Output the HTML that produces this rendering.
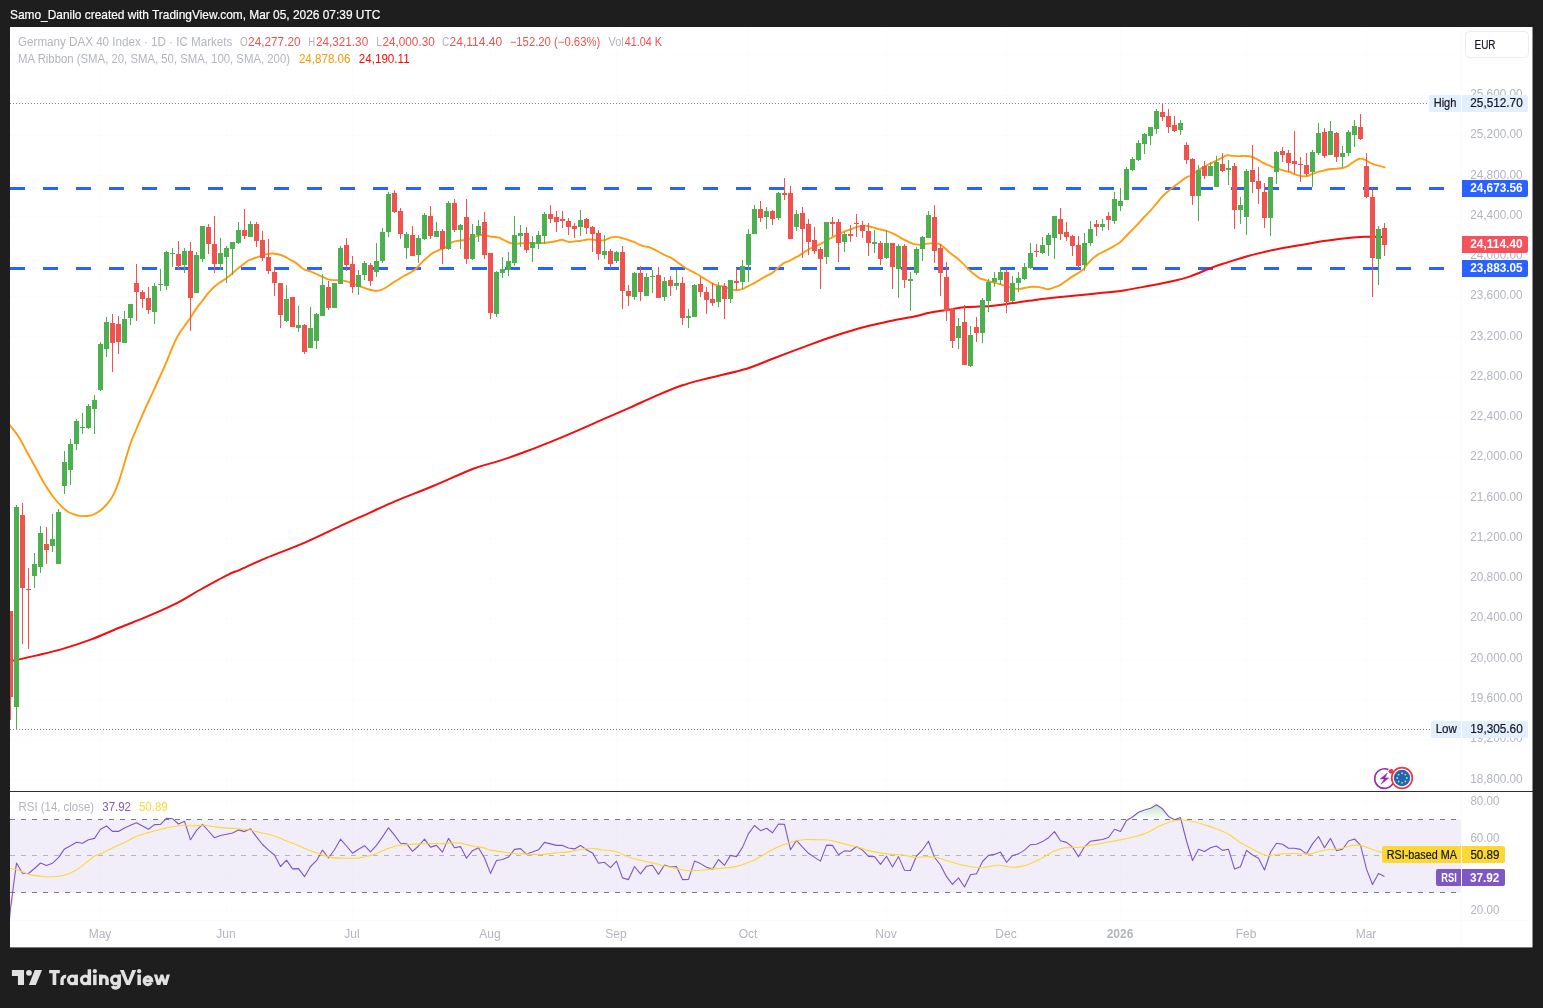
<!DOCTYPE html><html><head><meta charset="utf-8"><title>DAX</title><style>
html,body{margin:0;padding:0;background:#1e1e1e;width:1543px;height:1008px;overflow:hidden}
svg{display:block;position:absolute;left:0;top:0}
svg{will-change:transform}
text{font-family:"Liberation Sans",sans-serif;font-size:12px}
.g{fill:#b2b5be}.r{fill:#ef5350}.ax{fill:#b2b5be}.dk{fill:#131722;stroke:#131722;stroke-width:.2px}.w{fill:#fff}
</style></head><body>
<svg width="1543" height="1008" viewBox="0 0 1543 1008">
<defs>
<clipPath id="cm"><rect x="10" y="27" width="1451" height="764"/></clipPath>
<clipPath id="cr"><rect x="10" y="792" width="1451" height="128"/></clipPath>
<linearGradient id="ob" gradientUnits="userSpaceOnUse" x1="0" y1="800" x2="0" y2="819.5"><stop offset="0" stop-color="#4caf50" stop-opacity="0.45"/><stop offset="1" stop-color="#4caf50" stop-opacity="0"/></linearGradient>
<linearGradient id="os" gradientUnits="userSpaceOnUse" x1="0" y1="892.5" x2="0" y2="912"><stop offset="0" stop-color="#ef5350" stop-opacity="0"/><stop offset="1" stop-color="#ef5350" stop-opacity="0.45"/></linearGradient>
<clipPath id="cw"><rect x="150" y="974.6" width="25" height="10.5"/></clipPath>
</defs>
<rect x="0" y="0" width="1543" height="1008" fill="#1e1e1e"/>
<text x="10" y="19.4" style="font-size:13px" fill="#fff" stroke="#fff" stroke-width="0.2" textLength="370.3" lengthAdjust="spacingAndGlyphs">Samo_Danilo created with TradingView.com, Mar 05, 2026 07:39 UTC</text>
<rect x="10" y="27" width="1522.5" height="920.4" fill="#fff"/>
<path d="M10 54.5H1461 M10 95.5H1461 M10 135.5H1461 M10 175.5H1461 M10 216.5H1461 M10 256.5H1461 M10 296.5H1461 M10 336.5H1461 M10 377.5H1461 M10 417.5H1461 M10 457.5H1461 M10 497.5H1461 M10 538.5H1461 M10 578.5H1461 M10 618.5H1461 M10 659.5H1461 M10 699.5H1461 M10 739.5H1461 M10 779.5H1461 M100.5 27V791M100.5 792V920 M226.5 27V791M226.5 792V920 M352.5 27V791M352.5 792V920 M490.5 27V791M490.5 792V920 M616.5 27V791M616.5 792V920 M748.5 27V791M748.5 792V920 M886.5 27V791M886.5 792V920 M1006.5 27V791M1006.5 792V920 M1120.5 27V791M1120.5 792V920 M1246.5 27V791M1246.5 792V920 M1366.5 27V791M1366.5 792V920 M10 801.5H1461 M10 838.5H1461 M10 874.5H1461 M10 910.5H1461" stroke="#fcfcfe" stroke-width="1" fill="none"/>
<path d="M1461.5 27V947M10 920.5H1531" stroke="#fbfbfd" stroke-width="1" fill="none"/>
<g clip-path="url(#cm)">
<path d="M10 103.5H1429M10 729.5H1431" stroke="#787b86" stroke-width="1" stroke-dasharray="1 2" fill="none"/>
<path d="M10 188.5H1461M10 268.5H1461" stroke="#2962ff" stroke-width="3" stroke-dasharray="15 18" fill="none"/>
<path d="M9.0 424.0C9.3 424.4 9.1 424.1 10.8 426.4C12.5 428.6 16.3 433.1 19.1 437.5C21.9 441.9 24.6 447.7 27.4 452.8C30.2 457.9 33.0 462.9 35.8 468.0C38.6 473.1 41.3 478.7 44.1 483.3C46.9 487.9 49.6 492.1 52.4 495.8C55.2 499.5 58.0 502.8 60.8 505.6C63.6 508.4 66.3 510.9 69.1 512.5C71.9 514.1 75.1 514.7 77.4 515.3C79.7 515.9 80.7 516.1 83.0 516.1C85.3 516.1 88.5 516.1 91.3 515.3C94.1 514.5 96.9 513.2 99.7 511.1C102.5 509.0 105.7 505.6 108.0 502.8C110.3 500.0 111.8 498.1 113.6 494.4C115.4 490.7 117.2 485.9 119.1 480.6C120.9 475.3 122.8 468.6 124.7 462.5C126.6 456.4 128.4 449.4 130.3 444.0C132.2 438.6 134.0 434.8 136.0 430.0C138.0 425.2 140.3 419.9 142.3 415.4C144.3 410.9 146.0 407.0 147.8 403.0C149.6 399.0 151.5 395.4 153.3 391.4C155.1 387.4 157.0 383.0 158.8 379.0C160.6 375.0 162.4 371.5 164.2 367.3C166.0 363.1 167.9 358.4 169.7 354.0C171.5 349.6 173.5 344.6 175.1 341.1C176.7 337.6 178.1 335.4 179.5 333.0C180.9 330.6 182.0 329.6 183.8 327.0C185.6 324.4 188.4 320.7 190.5 317.7C192.6 314.7 194.2 311.6 196.1 308.9C198.0 306.2 200.1 303.8 202.0 301.3C203.9 298.8 205.9 296.1 207.8 293.7C209.8 291.3 211.8 289.0 213.7 287.2C215.6 285.4 217.6 284.0 219.5 282.6C221.4 281.2 223.5 280.4 225.4 279.0C227.3 277.6 229.2 276.0 231.2 274.4C233.1 272.8 235.1 270.8 237.1 269.1C239.1 267.4 241.1 265.9 243.0 264.4C244.9 262.9 246.9 261.4 248.8 260.3C250.8 259.2 252.8 258.7 254.7 258.0C256.6 257.3 258.6 256.8 260.5 256.2C262.4 255.5 264.4 254.5 266.4 254.1C268.3 253.7 270.2 253.5 272.2 253.5C274.1 253.5 276.2 253.8 278.1 254.2C280.1 254.6 281.9 255.3 283.9 256.2C285.8 257.1 287.9 258.4 289.8 259.5C291.8 260.6 293.7 261.3 295.6 262.6C297.5 263.9 299.5 266.0 301.0 267.2C302.5 268.4 302.9 268.9 304.5 269.6C306.1 270.3 308.4 270.6 310.4 271.3C312.3 272.0 314.2 273.1 316.2 274.0C318.1 274.9 320.2 275.7 322.1 276.6C324.1 277.5 325.9 278.7 327.9 279.3C329.8 279.9 331.9 280.0 333.8 280.1C335.8 280.2 337.7 279.9 339.6 280.1C341.6 280.3 343.6 280.6 345.5 281.1C347.4 281.6 349.4 282.4 351.3 283.1C353.2 283.8 355.2 284.7 357.2 285.4C359.1 286.1 361.1 286.7 363.0 287.4C364.9 288.1 366.9 288.9 368.9 289.5C370.9 290.1 372.9 290.6 374.8 290.7C376.8 290.8 378.7 290.7 380.6 290.1C382.6 289.5 384.6 288.4 386.5 287.2C388.4 286.0 390.4 284.4 392.3 283.1C394.2 281.8 396.2 280.7 398.2 279.5C400.1 278.3 402.1 277.1 404.0 276.0C405.9 274.9 407.9 274.1 409.9 272.9C411.8 271.7 413.8 270.7 415.7 269.0C417.6 267.3 419.7 264.6 421.6 262.6C423.6 260.7 425.4 259.0 427.4 257.3C429.3 255.6 431.3 253.8 433.3 252.6C435.3 251.4 437.5 250.8 439.5 249.9C441.5 249.0 443.4 248.5 445.4 247.3C447.3 246.1 449.2 243.7 451.2 242.6C453.1 241.5 455.2 241.3 457.1 240.9C459.1 240.5 460.9 240.6 462.9 240.3C464.8 240.0 466.8 239.7 468.8 239.1C470.8 238.5 472.8 237.5 474.7 236.8C476.6 236.1 478.6 235.2 480.5 235.0C482.4 234.8 484.4 235.3 486.4 235.6C488.3 235.9 490.2 236.5 492.2 236.8C494.1 237.1 496.2 236.9 498.1 237.4C500.1 237.9 501.9 239.1 503.9 240.0C505.8 240.9 507.9 242.3 509.8 242.9C511.8 243.5 513.5 243.5 515.6 243.6C517.8 243.7 520.6 243.4 522.7 243.3C524.9 243.2 526.5 243.1 528.5 243.1C530.5 243.1 532.4 243.1 534.4 243.1C536.4 243.1 538.3 243.2 540.3 243.1C542.2 243.0 544.1 242.9 546.1 242.7C548.1 242.5 550.0 242.2 552.0 241.9C554.0 241.6 556.1 241.0 557.8 240.7C559.4 240.3 560.1 239.6 561.9 239.8C563.7 240.0 566.1 241.7 568.4 241.9C570.6 242.2 573.3 241.5 575.4 241.3C577.5 241.1 579.2 241.0 581.2 240.7C583.2 240.4 585.2 239.7 587.1 239.5C589.0 239.3 591.0 239.3 592.9 239.5C594.8 239.7 596.8 240.4 598.8 240.5C600.8 240.6 602.8 240.6 604.7 240.1C606.7 239.6 608.5 238.1 610.5 237.6C612.5 237.1 614.4 236.8 616.4 236.9C618.4 237.0 620.2 237.6 622.2 238.1C624.2 238.6 626.2 239.3 628.1 239.9C630.0 240.5 632.0 241.1 633.9 241.9C635.8 242.7 637.8 244.0 639.8 244.8C641.8 245.6 644.0 246.2 645.6 246.6C647.2 247.0 647.7 246.6 649.3 247.2C650.9 247.8 653.1 248.9 655.1 249.9C657.1 250.9 659.0 252.1 661.0 253.1C663.0 254.1 664.8 255.0 666.8 256.0C668.8 257.0 670.8 257.7 672.7 258.9C674.7 260.1 676.5 261.6 678.5 263.0C680.5 264.4 682.4 266.0 684.4 267.3C686.4 268.6 688.3 269.6 690.3 270.6C692.2 271.6 694.1 272.4 696.1 273.5C698.1 274.6 700.0 275.9 702.0 277.1C704.0 278.3 705.8 279.6 707.8 280.8C709.8 282.0 711.8 283.3 713.7 284.1C715.7 284.9 717.5 285.3 719.5 285.8C721.5 286.3 723.4 286.4 725.4 287.0C727.4 287.6 729.2 288.9 731.2 289.4C733.2 289.9 735.2 290.3 737.1 290.2C739.0 290.1 741.0 289.5 742.9 288.8C744.8 288.1 746.8 286.8 748.8 285.8C750.8 284.8 752.8 284.0 754.7 282.9C756.7 281.8 758.5 280.6 760.5 279.4C762.5 278.2 764.4 277.0 766.4 275.9C768.4 274.8 770.2 274.4 772.2 273.0C774.2 271.6 776.2 269.4 778.1 267.7C780.0 266.0 782.0 264.2 783.9 263.0C785.8 261.8 787.8 261.6 789.8 260.7C791.8 259.8 794.1 258.2 795.6 257.4C797.1 256.6 797.0 257.0 798.5 256.1C800.0 255.2 802.4 253.3 804.4 252.0C806.4 250.7 808.3 249.5 810.3 248.5C812.2 247.5 814.1 247.0 816.1 246.1C818.1 245.2 820.0 244.3 822.0 243.2C824.0 242.1 825.8 240.8 827.8 239.7C829.8 238.6 831.8 237.7 833.7 236.7C835.7 235.7 837.5 234.7 839.5 233.8C841.5 232.9 843.4 231.9 845.4 231.1C847.4 230.3 849.2 229.8 851.2 229.1C853.2 228.4 855.2 227.4 857.1 226.8C859.0 226.2 861.0 225.7 862.9 225.6C864.8 225.5 866.8 225.8 868.8 226.2C870.8 226.6 872.8 227.4 874.7 228.0C876.7 228.6 878.5 229.0 880.5 229.5C882.5 230.0 884.4 230.3 886.4 230.9C888.4 231.5 890.2 232.3 892.2 233.2C894.2 234.1 896.2 235.1 898.1 236.2C900.0 237.3 902.0 238.7 903.9 239.7C905.8 240.7 907.8 241.6 909.8 242.4C911.8 243.2 913.7 244.0 915.6 244.4C917.5 244.8 919.3 244.9 921.2 244.8C923.1 244.7 925.2 243.8 927.1 243.6C929.0 243.4 931.0 243.3 932.9 243.4C934.8 243.5 936.8 243.2 938.8 243.9C940.8 244.7 942.8 246.3 944.7 247.9C946.7 249.5 948.5 251.7 950.5 253.3C952.5 254.9 954.4 256.0 956.4 257.6C958.4 259.2 960.2 261.0 962.2 262.9C964.2 264.8 966.2 266.9 968.1 268.8C970.0 270.7 972.0 272.4 973.9 274.0C975.8 275.6 978.0 277.5 979.8 278.4C981.5 279.3 982.6 279.1 984.4 279.6C986.1 280.2 988.3 281.1 990.3 281.7C992.2 282.3 994.1 282.6 996.1 283.1C998.1 283.6 1000.0 284.2 1002.0 284.8C1004.0 285.4 1005.8 286.0 1007.8 286.6C1009.8 287.2 1011.8 287.9 1013.7 288.3C1015.7 288.7 1017.5 289.0 1019.5 288.9C1021.5 288.8 1023.5 288.1 1025.4 287.8C1027.4 287.5 1029.2 287.0 1031.2 286.8C1033.2 286.6 1035.1 286.7 1037.1 286.9C1039.0 287.1 1041.1 287.6 1042.9 288.0C1044.8 288.4 1046.2 289.3 1048.2 289.2C1050.2 289.1 1052.7 287.9 1054.7 287.2C1056.8 286.5 1058.5 285.9 1060.5 284.8C1062.5 283.7 1064.5 282.1 1066.4 280.7C1068.4 279.3 1070.2 277.9 1072.2 276.6C1074.2 275.3 1076.1 274.4 1078.1 273.1C1080.0 271.8 1082.6 270.2 1083.9 269.0C1085.2 267.8 1084.8 267.3 1086.1 265.7C1087.4 264.1 1090.0 261.2 1092.0 259.3C1094.0 257.4 1095.8 255.9 1097.8 254.6C1099.8 253.3 1101.8 252.7 1103.7 251.7C1105.7 250.7 1107.5 249.8 1109.5 248.7C1111.5 247.6 1113.5 246.4 1115.4 245.2C1117.3 244.0 1118.8 243.4 1120.7 241.7C1122.7 240.0 1125.1 237.1 1127.1 235.0C1129.1 232.9 1131.0 231.2 1132.9 229.2C1134.9 227.2 1136.8 225.1 1138.8 223.0C1140.8 220.9 1142.8 218.6 1144.7 216.5C1146.7 214.4 1148.5 212.8 1150.5 210.7C1152.5 208.5 1154.5 205.9 1156.4 203.6C1158.4 201.2 1160.2 198.6 1162.2 196.6C1164.2 194.6 1166.1 193.0 1168.1 191.3C1170.1 189.6 1172.4 187.9 1174.4 186.3C1176.4 184.7 1178.3 183.1 1180.3 181.7C1182.2 180.2 1184.1 178.7 1186.1 177.6C1188.0 176.5 1190.0 176.4 1192.0 175.2C1194.0 174.0 1195.8 171.9 1197.8 170.5C1199.8 169.1 1201.8 168.1 1203.7 167.0C1205.7 165.9 1207.5 164.9 1209.5 163.9C1211.5 162.9 1213.5 162.1 1215.4 161.2C1217.4 160.2 1219.2 159.2 1221.2 158.2C1223.2 157.2 1225.1 155.7 1227.1 155.3C1229.0 154.9 1231.0 155.8 1232.9 155.9C1234.9 156.0 1236.8 156.1 1238.8 156.1C1240.8 156.1 1242.8 155.8 1244.7 155.9C1246.7 156.0 1248.5 156.0 1250.5 156.5C1252.5 157.0 1254.5 157.8 1256.4 158.8C1258.4 159.8 1260.2 161.3 1262.2 162.3C1264.2 163.3 1266.1 164.1 1268.1 165.0C1270.0 165.9 1272.0 166.9 1273.9 167.6C1275.9 168.3 1277.8 168.8 1279.8 169.4C1281.8 170.0 1283.9 170.7 1285.6 171.1C1287.3 171.5 1288.8 171.6 1290.0 172.0C1291.2 172.4 1291.5 173.0 1293.0 173.6C1294.5 174.2 1296.8 175.1 1298.9 175.6C1301.1 176.1 1303.8 176.5 1305.9 176.3C1308.1 176.1 1309.8 174.9 1311.8 174.2C1313.8 173.5 1315.6 172.8 1317.6 172.2C1319.5 171.6 1321.5 171.2 1323.5 170.7C1325.5 170.2 1327.3 169.6 1329.3 169.3C1331.2 169.0 1333.0 169.1 1335.2 168.9C1337.4 168.7 1340.2 168.4 1342.2 168.0C1344.2 167.6 1345.5 167.2 1347.0 166.5C1348.5 165.8 1349.6 164.7 1350.9 163.8C1352.2 162.9 1353.5 161.8 1354.9 161.0C1356.4 160.2 1357.9 158.9 1359.6 158.7C1361.3 158.5 1363.2 159.2 1365.0 159.9C1366.8 160.6 1368.9 162.2 1370.5 163.0C1372.1 163.8 1373.2 164.2 1374.5 164.6C1375.8 165.0 1376.7 165.2 1378.4 165.7C1380.1 166.1 1383.6 167.0 1384.6 167.3" stroke="#ff9c0f" stroke-width="1.9" fill="none" stroke-linejoin="round" stroke-linecap="round"/>
<path d="M9.0 661.5C9.3 661.4 6.3 662.1 10.8 661.1C15.3 660.1 27.0 657.7 35.8 655.6C44.6 653.5 54.4 651.3 63.6 648.6C72.8 645.9 82.0 642.9 91.3 639.4C100.5 635.9 109.8 631.6 119.1 627.8C128.4 624.0 137.6 620.6 146.9 616.7C156.2 612.8 165.4 608.9 174.7 604.2C183.9 599.5 193.2 593.6 202.4 588.5C211.7 583.4 223.9 576.7 230.2 573.6C236.5 570.5 234.1 572.4 240.0 569.8C245.9 567.2 255.1 562.6 265.9 558.1C276.7 553.6 291.8 548.2 304.8 542.6C317.8 537.0 332.9 529.4 343.7 524.4C354.5 519.4 361.0 516.7 369.6 512.8C378.2 508.9 384.7 505.7 395.5 501.1C406.3 496.6 421.4 490.9 434.4 485.5C447.4 480.1 462.5 472.8 473.3 468.7C484.1 464.6 490.5 463.7 499.2 460.9C507.9 458.1 514.4 455.9 525.2 451.8C536.0 447.7 551.0 441.7 564.0 436.3C577.0 430.9 591.9 424.2 602.9 419.4C613.9 414.6 621.2 411.5 630.0 407.6C638.8 403.7 647.3 399.6 655.9 395.9C664.5 392.2 673.1 388.4 681.8 385.5C690.4 382.6 697.0 381.1 707.8 378.3C718.6 375.5 735.9 371.9 746.7 368.7C757.5 365.4 761.8 362.9 772.6 358.8C783.4 354.7 800.7 348.1 811.5 344.1C822.3 340.1 828.8 337.8 837.4 335.0C846.0 332.2 854.7 329.5 863.3 327.2C871.9 324.9 880.6 323.1 889.2 321.3C897.9 319.5 908.5 317.7 915.2 316.3C921.9 314.9 924.7 313.6 929.4 312.7C934.1 311.8 937.2 311.5 943.4 310.6C949.6 309.7 959.0 307.9 966.8 307.1C974.6 306.3 982.5 306.6 990.3 305.9C998.1 305.2 1005.9 304.0 1013.7 303.0C1021.5 302.0 1029.3 300.7 1037.1 299.7C1044.9 298.7 1052.7 297.9 1060.5 297.1C1068.3 296.3 1077.3 295.5 1083.9 294.8C1090.5 294.1 1093.4 293.7 1100.0 293.0C1106.6 292.3 1115.4 291.6 1123.7 290.4C1132.0 289.2 1141.0 287.3 1149.6 285.7C1158.2 284.1 1168.6 282.1 1175.5 280.5C1182.4 278.9 1185.0 278.2 1191.1 276.1C1197.1 274.0 1205.8 269.9 1211.8 267.6C1217.8 265.3 1220.5 264.6 1227.4 262.4C1234.3 260.2 1244.7 256.9 1253.3 254.6C1261.9 252.3 1270.5 250.4 1279.2 248.7C1287.9 247.0 1298.1 245.4 1305.2 244.2C1312.3 243.0 1315.4 242.2 1321.8 241.3C1328.2 240.4 1337.2 239.2 1343.6 238.5C1350.0 237.8 1356.0 237.2 1360.0 236.9C1364.0 236.6 1363.5 236.7 1367.6 236.7C1371.7 236.7 1381.7 236.9 1384.5 236.9" stroke="#f60c0c" stroke-width="2" fill="none" stroke-linejoin="round" stroke-linecap="round"/>
<path d="M16 505h1v225h-1zM34 553h1v35h-1zM40 526h1v47h-1zM52 514h1v38h-1zM58 509h1v55h-1zM64 451h1v43h-1zM70 439h1v46h-1zM76 419h1v31h-1zM82 413h1v21h-1zM88 404h1v25h-1zM94 395h1v39h-1zM100 342h1v49h-1zM106 317h1v40h-1zM124 311h1v32h-1zM130 304h1v21h-1zM154 283h1v41h-1zM160 269h1v22h-1zM166 251h1v39h-1zM172 248h1v19h-1zM184 248h1v25h-1zM196 252h1v41h-1zM202 226h1v36h-1zM220 238h1v32h-1zM226 246h1v37h-1zM232 242h1v33h-1zM238 222h1v22h-1zM250 221h1v16h-1zM286 285h1v37h-1zM298 306h1v26h-1zM310 307h1v41h-1zM316 313h1v36h-1zM322 274h1v42h-1zM334 283h1v25h-1zM340 246h1v38h-1zM358 270h1v25h-1zM364 261h1v19h-1zM376 243h1v34h-1zM382 228h1v35h-1zM388 192h1v45h-1zM406 232h1v27h-1zM418 235h1v28h-1zM424 213h1v27h-1zM436 222h1v15h-1zM448 201h1v49h-1zM460 224h1v25h-1zM472 224h1v36h-1zM478 220h1v22h-1zM496 271h1v46h-1zM502 257h1v21h-1zM508 252h1v24h-1zM514 216h1v50h-1zM520 225h1v22h-1zM532 236h1v26h-1zM538 231h1v18h-1zM544 212h1v32h-1zM580 210h1v26h-1zM604 235h1v24h-1zM616 251h1v12h-1zM634 272h1v28h-1zM646 273h1v23h-1zM652 270h1v23h-1zM664 277h1v24h-1zM676 270h1v20h-1zM688 309h1v19h-1zM694 284h1v33h-1zM718 282h1v25h-1zM730 280h1v23h-1zM742 260h1v29h-1zM748 229h1v53h-1zM754 205h1v29h-1zM766 207h1v22h-1zM778 192h1v28h-1zM796 210h1v21h-1zM826 222h1v42h-1zM844 232h1v20h-1zM874 230h1v23h-1zM886 230h1v29h-1zM898 244h1v54h-1zM910 272h1v39h-1zM916 247h1v28h-1zM922 236h1v25h-1zM928 211h1v27h-1zM958 318h1v31h-1zM970 326h1v41h-1zM982 298h1v45h-1zM988 279h1v33h-1zM994 272h1v15h-1zM1000 267h1v18h-1zM1012 276h1v26h-1zM1018 272h1v20h-1zM1024 263h1v17h-1zM1030 243h1v26h-1zM1042 237h1v17h-1zM1048 233h1v23h-1zM1054 216h1v43h-1zM1084 233h1v38h-1zM1090 221h1v25h-1zM1102 219h1v12h-1zM1114 192h1v32h-1zM1120 188h1v23h-1zM1126 167h1v33h-1zM1132 157h1v14h-1zM1138 140h1v21h-1zM1144 133h1v21h-1zM1150 127h1v18h-1zM1156 109h1v25h-1zM1180 120h1v15h-1zM1198 165h1v56h-1zM1210 162h1v14h-1zM1216 156h1v31h-1zM1228 160h1v25h-1zM1240 197h1v27h-1zM1246 169h1v66h-1zM1270 177h1v59h-1zM1276 151h1v33h-1zM1312 150h1v37h-1zM1318 123h1v32h-1zM1330 121h1v34h-1zM1342 146h1v21h-1zM1348 130h1v26h-1zM1354 120h1v27h-1zM1378 226h1v59h-1zM14 507h5v200h-5zM32 564h5v12h-5zM38 533h5v34h-5zM50 539h5v7h-5zM56 512h5v52h-5zM62 462h5v24h-5zM68 444h5v26h-5zM74 421h5v23h-5zM80 427h5v1h-5zM86 406h5v22h-5zM92 400h5v9h-5zM98 344h5v46h-5zM104 322h5v27h-5zM122 319h5v24h-5zM128 304h5v14h-5zM152 286h5v26h-5zM158 284h5v1h-5zM164 252h5v34h-5zM170 253h5v1h-5zM182 251h5v14h-5zM194 255h5v38h-5zM200 226h5v33h-5zM218 253h5v11h-5zM224 248h5v9h-5zM230 242h5v7h-5zM236 230h5v13h-5zM248 224h5v13h-5zM284 299h5v22h-5zM296 325h5v3h-5zM308 328h5v20h-5zM314 314h5v27h-5zM320 285h5v31h-5zM332 283h5v25h-5zM338 248h5v36h-5zM356 275h5v12h-5zM362 263h5v12h-5zM374 261h5v11h-5zM380 232h5v29h-5zM386 194h5v38h-5zM404 234h5v14h-5zM416 238h5v17h-5zM422 215h5v24h-5zM434 231h5v6h-5zM446 203h5v46h-5zM458 225h5v5h-5zM470 234h5v25h-5zM476 226h5v9h-5zM494 272h5v42h-5zM500 269h5v4h-5zM506 261h5v9h-5zM512 235h5v28h-5zM518 233h5v3h-5zM530 242h5v6h-5zM536 235h5v9h-5zM542 214h5v22h-5zM578 220h5v7h-5zM602 251h5v4h-5zM614 252h5v9h-5zM632 273h5v24h-5zM644 277h5v19h-5zM650 276h5v1h-5zM662 281h5v16h-5zM674 283h5v3h-5zM686 316h5v2h-5zM692 285h5v32h-5zM716 286h5v16h-5zM728 280h5v19h-5zM740 266h5v16h-5zM746 234h5v31h-5zM752 209h5v25h-5zM764 211h5v6h-5zM776 193h5v25h-5zM794 214h5v13h-5zM824 222h5v35h-5zM842 234h5v8h-5zM872 242h5v2h-5zM884 243h5v15h-5zM896 246h5v23h-5zM908 279h5v2h-5zM914 249h5v24h-5zM920 237h5v12h-5zM926 215h5v23h-5zM956 326h5v12h-5zM968 335h5v31h-5zM980 300h5v33h-5zM986 282h5v19h-5zM992 278h5v4h-5zM998 272h5v8h-5zM1010 283h5v18h-5zM1016 278h5v5h-5zM1022 267h5v12h-5zM1028 253h5v15h-5zM1040 245h5v8h-5zM1046 235h5v10h-5zM1052 216h5v22h-5zM1082 243h5v22h-5zM1088 229h5v14h-5zM1100 224h5v3h-5zM1112 199h5v22h-5zM1118 201h5v5h-5zM1124 169h5v31h-5zM1130 159h5v11h-5zM1136 143h5v17h-5zM1142 134h5v10h-5zM1148 127h5v9h-5zM1154 111h5v18h-5zM1178 123h5v7h-5zM1196 170h5v26h-5zM1208 166h5v10h-5zM1214 162h5v25h-5zM1226 168h5v2h-5zM1238 205h5v5h-5zM1244 171h5v46h-5zM1268 177h5v41h-5zM1274 152h5v20h-5zM1310 152h5v20h-5zM1316 133h5v20h-5zM1328 131h5v24h-5zM1340 153h5v4h-5zM1346 132h5v21h-5zM1352 126h5v9h-5zM1376 229h5v30h-5z" fill="#4caf50" shape-rendering="crispEdges"/>
<path d="M10 611h1v109h-1zM22 503h1v141h-1zM28 568h1v81h-1zM46 527h1v37h-1zM112 314h1v58h-1zM118 316h1v38h-1zM136 264h1v57h-1zM142 290h1v18h-1zM148 287h1v27h-1zM178 241h1v29h-1zM190 242h1v89h-1zM208 224h1v30h-1zM214 216h1v57h-1zM244 209h1v30h-1zM256 222h1v25h-1zM262 231h1v30h-1zM268 239h1v35h-1zM274 268h1v28h-1zM280 283h1v45h-1zM292 297h1v30h-1zM304 324h1v30h-1zM328 281h1v29h-1zM346 238h1v33h-1zM352 256h1v37h-1zM370 263h1v23h-1zM394 190h1v23h-1zM400 208h1v31h-1zM412 226h1v30h-1zM430 206h1v33h-1zM442 229h1v35h-1zM454 199h1v33h-1zM466 199h1v65h-1zM484 212h1v47h-1zM490 253h1v66h-1zM526 227h1v26h-1zM550 205h1v18h-1zM556 211h1v21h-1zM562 211h1v17h-1zM568 218h1v17h-1zM574 223h1v15h-1zM586 218h1v16h-1zM592 226h1v26h-1zM598 230h1v30h-1zM610 249h1v19h-1zM622 246h1v63h-1zM628 285h1v21h-1zM640 266h1v35h-1zM658 267h1v31h-1zM670 276h1v20h-1zM682 277h1v48h-1zM700 277h1v20h-1zM706 287h1v27h-1zM712 283h1v23h-1zM724 283h1v36h-1zM736 268h1v22h-1zM760 201h1v21h-1zM772 210h1v15h-1zM784 178h1v22h-1zM790 186h1v53h-1zM802 207h1v51h-1zM808 219h1v36h-1zM814 227h1v27h-1zM820 247h1v42h-1zM832 217h1v19h-1zM838 219h1v43h-1zM850 225h1v17h-1zM856 214h1v23h-1zM862 221h1v17h-1zM868 223h1v33h-1zM880 241h1v24h-1zM892 243h1v46h-1zM904 244h1v44h-1zM934 205h1v58h-1zM940 244h1v52h-1zM946 262h1v59h-1zM952 308h1v40h-1zM964 305h1v60h-1zM976 317h1v25h-1zM1006 269h1v44h-1zM1036 244h1v13h-1zM1060 208h1v32h-1zM1066 222h1v19h-1zM1072 235h1v21h-1zM1078 236h1v32h-1zM1096 220h1v16h-1zM1108 212h1v18h-1zM1162 103h1v18h-1zM1168 109h1v24h-1zM1174 116h1v16h-1zM1186 142h1v22h-1zM1192 158h1v47h-1zM1204 161h1v18h-1zM1222 153h1v19h-1zM1234 163h1v66h-1zM1252 145h1v48h-1zM1258 167h1v37h-1zM1264 183h1v45h-1zM1282 147h1v15h-1zM1288 150h1v22h-1zM1294 131h1v43h-1zM1300 157h1v25h-1zM1306 153h1v23h-1zM1324 128h1v30h-1zM1336 132h1v30h-1zM1360 114h1v26h-1zM1366 153h1v45h-1zM1372 188h1v109h-1zM1384 223h1v33h-1zM8 611h5v86h-5zM20 515h5v73h-5zM26 589h5v1h-5zM44 544h5v6h-5zM110 323h5v20h-5zM116 324h5v18h-5zM134 283h5v9h-5zM140 292h5v7h-5zM146 298h5v12h-5zM176 254h5v12h-5zM188 251h5v47h-5zM206 227h5v17h-5zM212 244h5v20h-5zM242 230h5v6h-5zM254 224h5v17h-5zM260 240h5v18h-5zM266 257h5v14h-5zM272 272h5v11h-5zM278 283h5v32h-5zM290 297h5v30h-5zM302 325h5v27h-5zM326 287h5v21h-5zM344 245h5v20h-5zM350 264h5v23h-5zM368 265h5v16h-5zM392 193h5v19h-5zM398 211h5v23h-5zM410 235h5v21h-5zM428 216h5v20h-5zM440 231h5v18h-5zM452 203h5v27h-5zM464 217h5v42h-5zM482 222h5v33h-5zM488 253h5v60h-5zM524 233h5v17h-5zM548 214h5v5h-5zM554 217h5v5h-5zM560 219h5v2h-5zM566 221h5v6h-5zM572 226h5v3h-5zM584 219h5v9h-5zM590 227h5v7h-5zM596 233h5v21h-5zM608 251h5v13h-5zM620 252h5v39h-5zM626 291h5v5h-5zM638 273h5v19h-5zM656 275h5v23h-5zM668 280h5v6h-5zM680 283h5v35h-5zM698 284h5v8h-5zM704 292h5v8h-5zM710 299h5v4h-5zM722 286h5v13h-5zM734 281h5v2h-5zM758 209h5v9h-5zM770 211h5v8h-5zM782 193h5v2h-5zM788 193h5v46h-5zM800 213h5v16h-5zM806 224h5v18h-5zM812 240h5v11h-5zM818 249h5v10h-5zM830 222h5v2h-5zM836 222h5v21h-5zM848 234h5v2h-5zM854 223h5v1h-5zM860 225h5v6h-5zM866 231h5v12h-5zM878 243h5v16h-5zM890 243h5v24h-5zM902 246h5v34h-5zM932 217h5v34h-5zM938 248h5v25h-5zM944 277h5v34h-5zM950 309h5v32h-5zM962 322h5v43h-5zM974 327h5v6h-5zM1004 272h5v30h-5zM1034 251h5v1h-5zM1058 219h5v15h-5zM1064 232h5v5h-5zM1070 236h5v10h-5zM1076 245h5v21h-5zM1094 224h5v3h-5zM1106 216h5v4h-5zM1160 112h5v5h-5zM1166 116h5v11h-5zM1172 125h5v6h-5zM1184 145h5v15h-5zM1190 159h5v37h-5zM1202 166h5v10h-5zM1220 164h5v7h-5zM1232 166h5v44h-5zM1250 170h5v12h-5zM1256 181h5v8h-5zM1262 192h5v26h-5zM1280 151h5v4h-5zM1286 153h5v10h-5zM1292 161h5v3h-5zM1298 164h5v1h-5zM1304 165h5v9h-5zM1322 132h5v24h-5zM1334 133h5v24h-5zM1358 127h5v12h-5zM1364 166h5v31h-5zM1370 197h5v61h-5zM1382 228h5v17h-5z" fill="#ef5350" shape-rendering="crispEdges"/>
</g>
<rect x="10" y="791" width="1523" height="1" fill="#2a2e39"/>
<g clip-path="url(#cr)">
<rect x="10" y="819.5" width="1451" height="73" fill="#7e57c2" fill-opacity="0.1"/>
<path d="M10 819.5 L10.5 819.5 L16.5 819.5 L22.5 819.5 L28.5 819.5 L34.5 819.5 L40.5 819.5 L46.5 819.5 L52.5 819.5 L58.5 819.5 L64.5 819.5 L70.5 819.5 L76.5 819.5 L82.5 819.5 L88.5 819.5 L94.5 819.5 L100.5 819.5 L106.5 819.5 L112.5 819.5 L118.5 819.5 L124.5 819.5 L130.5 819.5 L136.5 819.5 L142.5 819.5 L148.5 819.5 L154.5 819.5 L160.5 819.5 L166.5 818.4 L172.5 818.7 L178.5 819.5 L184.5 819.5 L190.5 819.5 L196.5 819.5 L202.5 819.5 L208.5 819.5 L214.5 819.5 L220.5 819.5 L226.5 819.5 L232.5 819.5 L238.5 819.5 L244.5 819.5 L250.5 819.5 L256.5 819.5 L262.5 819.5 L268.5 819.5 L274.5 819.5 L280.5 819.5 L286.5 819.5 L292.5 819.5 L298.5 819.5 L304.5 819.5 L310.5 819.5 L316.5 819.5 L322.5 819.5 L328.5 819.5 L334.5 819.5 L340.5 819.5 L346.5 819.5 L352.5 819.5 L358.5 819.5 L364.5 819.5 L370.5 819.5 L376.5 819.5 L382.5 819.5 L388.5 819.5 L394.5 819.5 L400.5 819.5 L406.5 819.5 L412.5 819.5 L418.5 819.5 L424.5 819.5 L430.5 819.5 L436.5 819.5 L442.5 819.5 L448.5 819.5 L454.5 819.5 L460.5 819.5 L466.5 819.5 L472.5 819.5 L478.5 819.5 L484.5 819.5 L490.5 819.5 L496.5 819.5 L502.5 819.5 L508.5 819.5 L514.5 819.5 L520.5 819.5 L526.5 819.5 L532.5 819.5 L538.5 819.5 L544.5 819.5 L550.5 819.5 L556.5 819.5 L562.5 819.5 L568.5 819.5 L574.5 819.5 L580.5 819.5 L586.5 819.5 L592.5 819.5 L598.5 819.5 L604.5 819.5 L610.5 819.5 L616.5 819.5 L622.5 819.5 L628.5 819.5 L634.5 819.5 L640.5 819.5 L646.5 819.5 L652.5 819.5 L658.5 819.5 L664.5 819.5 L670.5 819.5 L676.5 819.5 L682.5 819.5 L688.5 819.5 L694.5 819.5 L700.5 819.5 L706.5 819.5 L712.5 819.5 L718.5 819.5 L724.5 819.5 L730.5 819.5 L736.5 819.5 L742.5 819.5 L748.5 819.5 L754.5 819.5 L760.5 819.5 L766.5 819.5 L772.5 819.5 L778.5 819.5 L784.5 819.5 L790.5 819.5 L796.5 819.5 L802.5 819.5 L808.5 819.5 L814.5 819.5 L820.5 819.5 L826.5 819.5 L832.5 819.5 L838.5 819.5 L844.5 819.5 L850.5 819.5 L856.5 819.5 L862.5 819.5 L868.5 819.5 L874.5 819.5 L880.5 819.5 L886.5 819.5 L892.5 819.5 L898.5 819.5 L904.5 819.5 L910.5 819.5 L916.5 819.5 L922.5 819.5 L928.5 819.5 L934.5 819.5 L940.5 819.5 L946.5 819.5 L952.5 819.5 L958.5 819.5 L964.5 819.5 L970.5 819.5 L976.5 819.5 L982.5 819.5 L988.5 819.5 L994.5 819.5 L1000.5 819.5 L1006.5 819.5 L1012.5 819.5 L1018.5 819.5 L1024.5 819.5 L1030.5 819.5 L1036.5 819.5 L1042.5 819.5 L1048.5 819.5 L1054.5 819.5 L1060.5 819.5 L1066.5 819.5 L1072.5 819.5 L1078.5 819.5 L1084.5 819.5 L1090.5 819.5 L1096.5 819.5 L1102.5 819.5 L1108.5 819.5 L1114.5 819.5 L1120.5 819.5 L1126.5 819.5 L1132.5 817.0 L1138.5 812.3 L1144.5 810.0 L1150.5 808.2 L1156.5 804.7 L1162.5 808.8 L1168.5 816.4 L1174.5 819.5 L1180.5 817.6 L1186.5 819.5 L1192.5 819.5 L1198.5 819.5 L1204.5 819.5 L1210.5 819.5 L1216.5 819.5 L1222.5 819.5 L1228.5 819.5 L1234.5 819.5 L1240.5 819.5 L1246.5 819.5 L1252.5 819.5 L1258.5 819.5 L1264.5 819.5 L1270.5 819.5 L1276.5 819.5 L1282.5 819.5 L1288.5 819.5 L1294.5 819.5 L1300.5 819.5 L1306.5 819.5 L1312.5 819.5 L1318.5 819.5 L1324.5 819.5 L1330.5 819.5 L1336.5 819.5 L1342.5 819.5 L1348.5 819.5 L1354.5 819.5 L1360.5 819.5 L1366.5 819.5 L1372.5 819.5 L1378.5 819.5 L1384.5 819.5 L1385 819.5Z" fill="url(#ob)"/>
<path d="M10 892.5 L10.5 908.3 L16.5 892.5 L22.5 892.5 L28.5 892.5 L34.5 892.5 L40.5 892.5 L46.5 892.5 L52.5 892.5 L58.5 892.5 L64.5 892.5 L70.5 892.5 L76.5 892.5 L82.5 892.5 L88.5 892.5 L94.5 892.5 L100.5 892.5 L106.5 892.5 L112.5 892.5 L118.5 892.5 L124.5 892.5 L130.5 892.5 L136.5 892.5 L142.5 892.5 L148.5 892.5 L154.5 892.5 L160.5 892.5 L166.5 892.5 L172.5 892.5 L178.5 892.5 L184.5 892.5 L190.5 892.5 L196.5 892.5 L202.5 892.5 L208.5 892.5 L214.5 892.5 L220.5 892.5 L226.5 892.5 L232.5 892.5 L238.5 892.5 L244.5 892.5 L250.5 892.5 L256.5 892.5 L262.5 892.5 L268.5 892.5 L274.5 892.5 L280.5 892.5 L286.5 892.5 L292.5 892.5 L298.5 892.5 L304.5 892.5 L310.5 892.5 L316.5 892.5 L322.5 892.5 L328.5 892.5 L334.5 892.5 L340.5 892.5 L346.5 892.5 L352.5 892.5 L358.5 892.5 L364.5 892.5 L370.5 892.5 L376.5 892.5 L382.5 892.5 L388.5 892.5 L394.5 892.5 L400.5 892.5 L406.5 892.5 L412.5 892.5 L418.5 892.5 L424.5 892.5 L430.5 892.5 L436.5 892.5 L442.5 892.5 L448.5 892.5 L454.5 892.5 L460.5 892.5 L466.5 892.5 L472.5 892.5 L478.5 892.5 L484.5 892.5 L490.5 892.5 L496.5 892.5 L502.5 892.5 L508.5 892.5 L514.5 892.5 L520.5 892.5 L526.5 892.5 L532.5 892.5 L538.5 892.5 L544.5 892.5 L550.5 892.5 L556.5 892.5 L562.5 892.5 L568.5 892.5 L574.5 892.5 L580.5 892.5 L586.5 892.5 L592.5 892.5 L598.5 892.5 L604.5 892.5 L610.5 892.5 L616.5 892.5 L622.5 892.5 L628.5 892.5 L634.5 892.5 L640.5 892.5 L646.5 892.5 L652.5 892.5 L658.5 892.5 L664.5 892.5 L670.5 892.5 L676.5 892.5 L682.5 892.5 L688.5 892.5 L694.5 892.5 L700.5 892.5 L706.5 892.5 L712.5 892.5 L718.5 892.5 L724.5 892.5 L730.5 892.5 L736.5 892.5 L742.5 892.5 L748.5 892.5 L754.5 892.5 L760.5 892.5 L766.5 892.5 L772.5 892.5 L778.5 892.5 L784.5 892.5 L790.5 892.5 L796.5 892.5 L802.5 892.5 L808.5 892.5 L814.5 892.5 L820.5 892.5 L826.5 892.5 L832.5 892.5 L838.5 892.5 L844.5 892.5 L850.5 892.5 L856.5 892.5 L862.5 892.5 L868.5 892.5 L874.5 892.5 L880.5 892.5 L886.5 892.5 L892.5 892.5 L898.5 892.5 L904.5 892.5 L910.5 892.5 L916.5 892.5 L922.5 892.5 L928.5 892.5 L934.5 892.5 L940.5 892.5 L946.5 892.5 L952.5 892.5 L958.5 892.5 L964.5 892.5 L970.5 892.5 L976.5 892.5 L982.5 892.5 L988.5 892.5 L994.5 892.5 L1000.5 892.5 L1006.5 892.5 L1012.5 892.5 L1018.5 892.5 L1024.5 892.5 L1030.5 892.5 L1036.5 892.5 L1042.5 892.5 L1048.5 892.5 L1054.5 892.5 L1060.5 892.5 L1066.5 892.5 L1072.5 892.5 L1078.5 892.5 L1084.5 892.5 L1090.5 892.5 L1096.5 892.5 L1102.5 892.5 L1108.5 892.5 L1114.5 892.5 L1120.5 892.5 L1126.5 892.5 L1132.5 892.5 L1138.5 892.5 L1144.5 892.5 L1150.5 892.5 L1156.5 892.5 L1162.5 892.5 L1168.5 892.5 L1174.5 892.5 L1180.5 892.5 L1186.5 892.5 L1192.5 892.5 L1198.5 892.5 L1204.5 892.5 L1210.5 892.5 L1216.5 892.5 L1222.5 892.5 L1228.5 892.5 L1234.5 892.5 L1240.5 892.5 L1246.5 892.5 L1252.5 892.5 L1258.5 892.5 L1264.5 892.5 L1270.5 892.5 L1276.5 892.5 L1282.5 892.5 L1288.5 892.5 L1294.5 892.5 L1300.5 892.5 L1306.5 892.5 L1312.5 892.5 L1318.5 892.5 L1324.5 892.5 L1330.5 892.5 L1336.5 892.5 L1342.5 892.5 L1348.5 892.5 L1354.5 892.5 L1360.5 892.5 L1366.5 892.5 L1372.5 892.5 L1378.5 892.5 L1384.5 892.5 L1385 892.5Z" fill="url(#os)"/>
<path d="M10 819.5H1461M10 892.5H1461" stroke="#787b86" stroke-width="1" stroke-dasharray="5 6" fill="none"/>
<path d="M10 855.5H1461" stroke="#787b86" stroke-opacity="0.5" stroke-width="1" stroke-dasharray="5 6" fill="none"/>
<path d="M9 925 L10.5 908.3 L16.5 863.0 L22.5 873.2 L28.5 873.5 L34.5 868.5 L40.5 863.0 L46.5 865.6 L52.5 863.2 L58.5 857.6 L64.5 848.9 L70.5 845.7 L76.5 842.2 L82.5 843.3 L88.5 839.8 L94.5 838.4 L100.5 829.3 L106.5 826.0 L112.5 831.4 L118.5 831.4 L124.5 827.9 L130.5 825.2 L136.5 822.8 L142.5 826.0 L148.5 829.3 L154.5 824.6 L160.5 824.4 L166.5 818.4 L172.5 818.7 L178.5 824.0 L184.5 821.3 L190.5 839.8 L196.5 830.4 L202.5 824.4 L208.5 831.0 L214.5 837.8 L220.5 835.5 L226.5 834.2 L232.5 833.0 L238.5 829.9 L244.5 831.6 L250.5 828.7 L256.5 836.9 L262.5 844.5 L268.5 850.1 L274.5 855.0 L280.5 866.5 L286.5 860.1 L292.5 868.9 L298.5 868.6 L304.5 876.7 L310.5 866.5 L316.5 860.7 L322.5 850.1 L328.5 858.0 L334.5 849.8 L340.5 839.2 L346.5 846.0 L352.5 853.2 L358.5 849.2 L364.5 845.7 L370.5 851.9 L376.5 845.4 L382.5 836.9 L388.5 827.8 L394.5 835.1 L400.5 843.3 L406.5 843.7 L412.5 851.3 L418.5 846.0 L424.5 839.2 L430.5 847.1 L436.5 845.4 L442.5 852.1 L448.5 838.4 L454.5 847.8 L460.5 846.6 L466.5 858.2 L472.5 850.7 L478.5 847.8 L484.5 858.0 L490.5 873.4 L496.5 860.5 L502.5 859.5 L508.5 857.1 L514.5 849.4 L520.5 848.6 L526.5 854.1 L532.5 852.1 L538.5 849.8 L544.5 842.4 L550.5 843.9 L556.5 845.4 L562.5 845.4 L568.5 848.0 L574.5 848.9 L580.5 845.4 L586.5 849.8 L592.5 852.9 L598.5 863.2 L604.5 862.3 L610.5 867.7 L616.5 861.1 L622.5 877.9 L628.5 879.6 L634.5 866.5 L640.5 873.8 L646.5 866.2 L652.5 865.3 L658.5 874.4 L664.5 865.0 L670.5 867.0 L676.5 866.5 L682.5 879.6 L688.5 879.4 L694.5 861.1 L700.5 863.6 L706.5 867.3 L712.5 869.1 L718.5 859.5 L724.5 865.3 L730.5 855.4 L736.5 856.6 L742.5 847.4 L748.5 833.6 L754.5 825.5 L760.5 830.7 L766.5 828.3 L772.5 832.8 L778.5 824.0 L784.5 824.4 L790.5 849.8 L796.5 840.4 L802.5 847.2 L808.5 853.3 L814.5 857.4 L820.5 861.1 L826.5 845.1 L832.5 845.4 L838.5 854.8 L844.5 850.9 L850.5 851.3 L856.5 846.5 L862.5 850.1 L868.5 856.4 L874.5 856.6 L880.5 864.4 L886.5 856.2 L892.5 867.1 L898.5 856.6 L904.5 870.3 L910.5 870.5 L916.5 856.0 L922.5 849.8 L928.5 841.2 L934.5 857.4 L940.5 865.0 L946.5 876.7 L952.5 884.3 L958.5 877.9 L964.5 887.0 L970.5 874.7 L976.5 873.8 L982.5 861.5 L988.5 855.4 L994.5 854.4 L1000.5 852.1 L1006.5 862.3 L1012.5 855.6 L1018.5 853.9 L1024.5 850.1 L1030.5 844.7 L1036.5 844.3 L1042.5 841.6 L1048.5 837.7 L1054.5 831.6 L1060.5 840.7 L1066.5 842.4 L1072.5 847.1 L1078.5 856.8 L1084.5 846.8 L1090.5 841.2 L1096.5 840.4 L1102.5 839.5 L1108.5 837.5 L1114.5 829.3 L1120.5 831.4 L1126.5 820.5 L1132.5 817.0 L1138.5 812.3 L1144.5 810.0 L1150.5 808.2 L1156.5 804.7 L1162.5 808.8 L1168.5 816.4 L1174.5 819.7 L1180.5 817.6 L1186.5 841.0 L1192.5 860.5 L1198.5 849.2 L1204.5 851.5 L1210.5 847.8 L1216.5 846.0 L1222.5 850.4 L1228.5 849.2 L1234.5 868.9 L1240.5 866.7 L1246.5 850.4 L1252.5 855.0 L1258.5 858.3 L1264.5 870.0 L1270.5 852.3 L1276.5 843.3 L1282.5 844.3 L1288.5 848.2 L1294.5 848.2 L1300.5 849.4 L1306.5 853.9 L1312.5 843.9 L1318.5 836.5 L1324.5 847.8 L1330.5 838.4 L1336.5 850.7 L1342.5 849.2 L1348.5 841.0 L1354.5 839.0 L1360.5 845.1 L1366.5 869.1 L1372.5 884.5 L1378.5 873.4 L1384.5 876.5" stroke="#7e57c2" stroke-width="1.1" fill="none" stroke-linejoin="round"/>
<path d="M9.4 868.1C11.1 868.5 16.0 869.7 19.7 870.8C23.4 871.9 27.5 873.9 31.4 874.9C35.3 875.9 39.2 876.2 43.1 876.5C47.0 876.8 51.3 876.7 54.8 876.5C58.3 876.3 60.7 876.3 64.2 875.3C67.7 874.3 72.0 872.6 75.9 870.3C79.8 868.0 84.5 863.9 87.6 861.5C90.7 859.1 92.3 857.4 94.7 856.0C97.1 854.6 98.6 854.7 101.7 853.3C104.8 851.9 109.5 849.2 113.4 847.4C117.3 845.5 121.2 844.1 125.1 842.2C129.0 840.4 132.9 837.9 136.8 836.3C140.7 834.7 144.6 833.7 148.5 832.6C152.4 831.5 156.3 830.5 160.2 829.5C164.1 828.5 168.0 827.4 171.9 826.7C175.8 826.0 180.3 825.3 183.6 825.2C186.9 825.1 188.4 826.0 191.7 826.0C195.0 826.0 199.5 825.1 203.4 825.2C207.3 825.4 211.2 826.4 215.1 826.9C219.0 827.4 222.9 827.8 226.8 828.1C230.7 828.4 234.6 828.4 238.5 828.7C242.4 829.1 246.4 829.5 250.3 830.2C254.2 830.9 258.1 832.1 262.0 833.0C265.9 833.9 269.8 834.5 273.7 835.7C277.6 836.9 281.5 838.8 285.4 840.4C289.3 842.0 293.2 843.5 297.1 845.1C301.0 846.7 304.9 848.6 308.8 850.1C312.7 851.6 316.6 853.1 320.5 854.4C324.4 855.6 328.3 857.0 332.2 857.6C336.1 858.2 340.0 858.1 343.9 858.2C347.8 858.3 352.6 858.3 355.6 858.2C358.6 858.1 358.7 858.0 361.7 857.4C364.7 856.8 369.5 856.1 373.4 854.8C377.3 853.5 381.2 851.3 385.1 849.8C389.0 848.3 392.9 846.6 396.8 845.7C400.7 844.8 404.6 844.8 408.5 844.5C412.4 844.2 416.4 844.0 420.3 843.9C424.2 843.8 428.1 843.6 432.0 843.6C435.9 843.6 439.8 843.8 443.7 843.6C447.6 843.5 452.5 842.8 455.4 842.7C458.3 842.7 458.3 842.7 461.2 843.3C464.1 843.9 469.5 845.6 473.0 846.3C476.5 847.0 479.4 846.8 482.3 847.4C485.2 848.0 487.2 849.4 490.5 850.1C493.8 850.9 498.3 851.3 502.2 851.9C506.1 852.5 510.0 853.2 513.9 853.5C517.8 853.8 522.6 853.8 525.6 853.9C528.6 854.0 528.7 854.3 531.7 854.4C534.7 854.5 539.5 854.6 543.4 854.4C547.3 854.1 551.2 853.3 555.1 852.9C559.0 852.5 562.9 852.6 566.8 852.1C570.7 851.6 574.6 850.4 578.5 849.8C582.4 849.1 586.4 848.2 590.3 848.2C594.2 848.2 597.7 849.2 602.0 849.8C606.3 850.3 611.7 850.3 616.0 851.5C620.3 852.7 624.2 855.5 627.7 856.8C631.2 858.1 633.6 858.5 637.1 859.4C640.6 860.3 644.9 861.2 648.8 862.1C652.7 863.0 656.6 864.1 660.5 865.0C664.4 865.9 668.3 866.8 672.2 867.6C676.1 868.4 681.0 869.5 683.9 870.0C686.8 870.5 686.8 870.6 689.8 870.6C692.8 870.6 697.8 870.6 701.7 870.3C705.6 870.0 709.5 869.3 713.4 868.9C717.3 868.5 721.2 868.3 725.1 867.9C729.0 867.5 732.9 867.3 736.8 866.4C740.7 865.5 744.6 864.2 748.5 862.6C752.4 861.0 756.4 858.9 760.3 856.8C764.2 854.7 768.1 851.8 772.0 849.8C775.9 847.8 779.8 846.0 783.7 844.5C787.6 843.0 791.5 841.8 795.4 841.0C799.3 840.2 803.2 839.7 807.1 839.5C811.0 839.3 814.9 839.7 818.8 839.8C822.7 839.9 826.6 839.6 830.5 840.2C834.4 840.8 838.3 842.3 842.2 843.3C846.1 844.3 850.9 845.5 853.9 846.3C856.9 847.0 857.6 847.1 860.0 847.8C862.4 848.5 864.9 849.5 868.2 850.4C871.5 851.2 876.0 852.2 879.9 852.9C883.8 853.6 887.7 854.0 891.6 854.4C895.5 854.8 899.4 854.5 903.3 855.0C907.2 855.5 911.1 857.1 915.0 857.4C918.9 857.7 922.8 856.5 926.7 856.6C930.6 856.7 934.6 857.1 938.5 858.0C942.4 858.9 946.3 860.6 950.2 861.8C954.1 863.0 958.4 864.2 961.9 865.0C965.4 865.8 967.9 866.2 971.2 866.7C974.5 867.2 978.1 867.9 981.8 867.7C985.5 867.6 990.4 866.2 993.5 865.8C996.6 865.4 997.4 865.0 1000.5 865.3C1003.6 865.5 1008.3 867.2 1012.2 867.3C1016.1 867.4 1020.9 866.4 1023.9 865.8C1026.9 865.2 1027.0 865.0 1030.0 863.8C1033.0 862.5 1037.8 860.3 1041.7 858.3C1045.6 856.2 1049.5 853.2 1053.4 851.5C1057.3 849.8 1060.8 848.5 1065.1 847.8C1069.4 847.1 1074.9 847.8 1079.2 847.4C1083.5 847.0 1087.0 845.8 1090.9 845.1C1094.8 844.4 1098.1 843.9 1102.6 843.1C1107.1 842.3 1112.3 841.5 1117.8 840.4C1123.3 839.3 1130.5 837.8 1135.4 836.5C1140.3 835.2 1143.2 834.5 1147.1 832.8C1151.0 831.1 1154.9 828.1 1158.8 826.3C1162.7 824.4 1166.6 822.8 1170.5 821.7C1174.4 820.6 1178.3 819.7 1182.2 819.7C1186.1 819.7 1190.0 820.8 1193.9 821.7C1197.8 822.6 1202.2 824.2 1205.6 825.2C1209.0 826.2 1210.3 826.4 1214.1 827.9C1217.8 829.4 1223.8 831.6 1228.1 834.0C1232.4 836.4 1235.9 839.8 1239.8 842.2C1243.7 844.6 1247.6 846.6 1251.5 848.6C1255.4 850.6 1260.1 853.2 1263.2 854.4C1266.3 855.6 1267.2 855.7 1270.3 855.6C1273.4 855.5 1278.1 854.2 1282.0 853.9C1285.9 853.5 1289.8 853.5 1293.7 853.5C1297.6 853.5 1302.3 854.1 1305.4 854.1C1308.5 854.1 1309.7 854.2 1312.4 853.6C1315.1 853.0 1318.3 851.3 1321.8 850.6C1325.3 849.9 1330.0 849.6 1333.5 849.2C1337.0 848.8 1339.8 848.6 1342.9 848.0C1346.0 847.4 1349.3 845.8 1352.2 845.4C1355.1 845.0 1357.5 844.9 1360.4 845.4C1363.3 845.9 1366.5 847.5 1369.8 848.6C1373.1 849.7 1377.5 851.3 1380.0 852.1C1382.5 852.9 1383.8 853.0 1384.5 853.2" stroke="#fdd835" stroke-width="1.1" fill="none" stroke-linejoin="round"/>
</g>
<text x="18.1" y="45.8" class="g" textLength="214.2" lengthAdjust="spacingAndGlyphs">Germany DAX 40 Index · 1D · IC Markets</text>
<text x="240.0" y="45.8" class="g" textLength="7.8" lengthAdjust="spacingAndGlyphs">O</text>
<text x="248.1" y="45.8" class="r" textLength="52.5" lengthAdjust="spacingAndGlyphs">24,277.20</text>
<text x="308.3" y="45.8" class="g" textLength="6.9" lengthAdjust="spacingAndGlyphs">H</text>
<text x="315.9" y="45.8" class="r" textLength="52.3" lengthAdjust="spacingAndGlyphs">24,321.30</text>
<text x="376.2" y="45.8" class="g" textLength="5.9" lengthAdjust="spacingAndGlyphs">L</text>
<text x="382.4" y="45.8" class="r" textLength="52.4" lengthAdjust="spacingAndGlyphs">24,000.30</text>
<text x="441.9" y="45.8" class="g" textLength="7.3" lengthAdjust="spacingAndGlyphs">C</text>
<text x="449.6" y="45.8" class="r" textLength="52.5" lengthAdjust="spacingAndGlyphs">24,114.40</text>
<text x="509.7" y="45.8" class="r" textLength="90.6" lengthAdjust="spacingAndGlyphs">−152.20 (−0.63%)</text>
<text x="608.5" y="45.8" class="g" textLength="15.1" lengthAdjust="spacingAndGlyphs">Vol</text>
<text x="624.7" y="45.8" class="r" textLength="37.3" lengthAdjust="spacingAndGlyphs">41.04 K</text>
<text x="18.1" y="62.95" class="g" textLength="271.9" lengthAdjust="spacingAndGlyphs">MA Ribbon (SMA, 20, SMA, 50, SMA, 100, SMA, 200)</text>
<text x="298.9" y="62.95" fill="#fb9800" textLength="51.6" lengthAdjust="spacingAndGlyphs">24,878.06</text>
<text x="358.8" y="62.95" fill="#f60c0c" textLength="50.8" lengthAdjust="spacingAndGlyphs">24,190.11</text>
<text x="18.5" y="810.8" class="g" textLength="75.6" lengthAdjust="spacingAndGlyphs">RSI (14, close)</text>
<text x="102.3" y="810.8" fill="#7e57c2" textLength="28.7" lengthAdjust="spacingAndGlyphs">37.92</text>
<text x="138.9" y="810.8" fill="#fdd835" textLength="28.9" lengthAdjust="spacingAndGlyphs">50.89</text>
<text x="1470.2" y="97.9" class="ax" textLength="52.5" lengthAdjust="spacingAndGlyphs">25,600.00</text>
<text x="1470.2" y="138.2" class="ax" textLength="52.5" lengthAdjust="spacingAndGlyphs">25,200.00</text>
<text x="1470.2" y="178.5" class="ax" textLength="52.5" lengthAdjust="spacingAndGlyphs">24,800.00</text>
<text x="1470.2" y="218.7" class="ax" textLength="52.5" lengthAdjust="spacingAndGlyphs">24,400.00</text>
<text x="1470.2" y="259.0" class="ax" textLength="52.5" lengthAdjust="spacingAndGlyphs">24,000.00</text>
<text x="1470.2" y="299.3" class="ax" textLength="52.5" lengthAdjust="spacingAndGlyphs">23,600.00</text>
<text x="1470.2" y="339.6" class="ax" textLength="52.5" lengthAdjust="spacingAndGlyphs">23,200.00</text>
<text x="1470.2" y="379.8" class="ax" textLength="52.5" lengthAdjust="spacingAndGlyphs">22,800.00</text>
<text x="1470.2" y="420.1" class="ax" textLength="52.5" lengthAdjust="spacingAndGlyphs">22,400.00</text>
<text x="1470.2" y="460.4" class="ax" textLength="52.5" lengthAdjust="spacingAndGlyphs">22,000.00</text>
<text x="1470.2" y="500.6" class="ax" textLength="52.5" lengthAdjust="spacingAndGlyphs">21,600.00</text>
<text x="1470.2" y="540.9" class="ax" textLength="52.5" lengthAdjust="spacingAndGlyphs">21,200.00</text>
<text x="1470.2" y="581.2" class="ax" textLength="52.5" lengthAdjust="spacingAndGlyphs">20,800.00</text>
<text x="1470.2" y="621.4" class="ax" textLength="52.5" lengthAdjust="spacingAndGlyphs">20,400.00</text>
<text x="1470.2" y="661.7" class="ax" textLength="52.5" lengthAdjust="spacingAndGlyphs">20,000.00</text>
<text x="1470.2" y="702.0" class="ax" textLength="52.5" lengthAdjust="spacingAndGlyphs">19,600.00</text>
<text x="1470.2" y="742.2" class="ax" textLength="52.5" lengthAdjust="spacingAndGlyphs">19,200.00</text>
<text x="1470.2" y="782.5" class="ax" textLength="52.5" lengthAdjust="spacingAndGlyphs">18,800.00</text>
<rect x="1465.5" y="31.5" width="63" height="26" rx="4" fill="#fff" stroke="#ececf0"/>
<text x="1474.5" y="48.8" class="dk" textLength="21" lengthAdjust="spacingAndGlyphs">EUR</text>
<path d="M1431 95.0H1461V112.0H1431Q1429 112.0 1429 110.0V97.0Q1429 95.0 1431 95.0Z" fill="#e3effd"/>
<path d="M1462 95.0H1526Q1528 95.0 1528 97.0V110.0Q1528 112.0 1526 112.0H1462Z" fill="#e3effd"/>
<text x="1433.7" y="107.3" class="dk" textLength="22.7" lengthAdjust="spacingAndGlyphs">High</text>
<text x="1470.3" y="107.2" class="dk" textLength="52.4" lengthAdjust="spacingAndGlyphs">25,512.70</text>
<path d="M1433 721.0H1461V738.0H1433Q1431 738.0 1431 736.0V723.0Q1431 721.0 1433 721.0Z" fill="#e3effd"/>
<path d="M1462 721.0H1526Q1528 721.0 1528 723.0V736.0Q1528 738.0 1526 738.0H1462Z" fill="#e3effd"/>
<text x="1435.7" y="733.3" class="dk" textLength="21.2" lengthAdjust="spacingAndGlyphs">Low</text>
<text x="1470.3" y="733.2" class="dk" textLength="52.4" lengthAdjust="spacingAndGlyphs">19,305.60</text>
<path d="M1462 180.0H1526Q1528 180.0 1528 182.0V195.0Q1528 197.0 1526 197.0H1462Z" fill="#2962ff"/>
<text x="1470.2" y="192.1" fill="#fff" style="font-weight:bold" textLength="52.5" lengthAdjust="spacingAndGlyphs">24,673.56</text>
<path d="M1462 260.0H1526Q1528 260.0 1528 262.0V275.0Q1528 277.0 1526 277.0H1462Z" fill="#2962ff"/>
<text x="1470.2" y="272.1" fill="#fff" style="font-weight:bold" textLength="52.5" lengthAdjust="spacingAndGlyphs">23,883.05</text>
<path d="M1462 236.0H1526Q1528 236.0 1528 238.0V251.0Q1528 253.0 1526 253.0H1462Z" fill="#f5525e"/>
<text x="1470.2" y="248.1" fill="#fff" style="font-weight:bold" textLength="52.5" lengthAdjust="spacingAndGlyphs">24,114.40</text>
<text x="1470.4" y="804.8" class="ax" textLength="29.0" lengthAdjust="spacingAndGlyphs">80.00</text>
<text x="1470.4" y="841.8" class="ax" textLength="29.0" lengthAdjust="spacingAndGlyphs">60.00</text>
<text x="1470.4" y="914.0" class="ax" textLength="29.0" lengthAdjust="spacingAndGlyphs">20.00</text>
<path d="M1384 846H1461V863H1384Q1382 863 1382 861V848Q1382 846 1384 846Z" fill="#fdd835"/>
<path d="M1462 846H1503Q1505 846 1505 848V861Q1505 863 1503 863H1462Z" fill="#fdd835"/>
<text x="1386.7" y="858.9" class="dk" textLength="70.2" lengthAdjust="spacingAndGlyphs">RSI-based MA</text>
<text x="1470.4" y="858.9" class="dk" textLength="29.0" lengthAdjust="spacingAndGlyphs">50.89</text>
<path d="M1438 869H1461V886H1438Q1436 886 1436 884V871Q1436 869 1438 869Z" fill="#7e57c2"/>
<path d="M1462 869H1503Q1505 869 1505 871V884Q1505 886 1503 886H1462Z" fill="#7e57c2"/>
<text x="1441.3" y="882" fill="#fff" style="font-weight:bold" textLength="15.5" lengthAdjust="spacingAndGlyphs">RSI</text>
<text x="1470" y="882" fill="#fff" style="font-weight:bold" textLength="29.4" lengthAdjust="spacingAndGlyphs">37.92</text>
<text x="100" y="938" class="ax" text-anchor="middle">May</text>
<text x="226" y="938" class="ax" text-anchor="middle">Jun</text>
<text x="352" y="938" class="ax" text-anchor="middle">Jul</text>
<text x="490" y="938" class="ax" text-anchor="middle">Aug</text>
<text x="616" y="938" class="ax" text-anchor="middle">Sep</text>
<text x="748" y="938" class="ax" text-anchor="middle">Oct</text>
<text x="886" y="938" class="ax" text-anchor="middle">Nov</text>
<text x="1006" y="938" class="ax" text-anchor="middle">Dec</text>
<text x="1246" y="938" class="ax" text-anchor="middle">Feb</text>
<text x="1366" y="938" class="ax" text-anchor="middle">Mar</text>
<text x="1120" y="938" class="ax" text-anchor="middle" style="font-weight:bold">2026</text>
<g fill="none" stroke-width="1.7">
<path d="M1388.4 769.6A9.8 9.8 0 1 0 1393.3 774.2" stroke="#9c27b0"/>
<path d="M1387.3 773L1380.2 778.9H1384.3L1381 784.2L1388.8 777.9H1384.9Z" fill="#9c27b0" stroke="#9c27b0" stroke-width="0.5" stroke-linejoin="round"/>
<circle cx="1402" cy="778" r="10.3" stroke="#f23645" fill="#fff"/>
</g>
<circle cx="1391.1" cy="771.3" r="2.4" fill="#f23645"/>
<circle cx="1402" cy="778" r="8.2" fill="#1967c0"/>
<circle cx="1402.0" cy="773.2" r="0.9" fill="#fdd835"/>
<circle cx="1405.4" cy="774.6" r="0.9" fill="#fdd835"/>
<circle cx="1406.8" cy="778.0" r="0.9" fill="#fdd835"/>
<circle cx="1405.4" cy="781.4" r="0.9" fill="#fdd835"/>
<circle cx="1402.0" cy="782.8" r="0.9" fill="#fdd835"/>
<circle cx="1398.6" cy="781.4" r="0.9" fill="#fdd835"/>
<circle cx="1397.2" cy="778.0" r="0.9" fill="#fdd835"/>
<circle cx="1398.6" cy="774.6" r="0.9" fill="#fdd835"/>
<g fill="#e1e1e1">
<path d="M11.9 970H24V985.1H17.9V976H11.9Z"/><circle cx="29" cy="972.8" r="2.9"/><path d="M34.8 970H42L35.8 985.1H28.9Z"/>
<path d="M49.1 969.9H59.8V973.2H56.3V985.1H52.6V973.2H49.1Z"/>
<rect x="93.1" y="974.6" width="3.5" height="10.5"/><circle cx="94.85" cy="971.2" r="2.1"/>
<rect x="137.4" y="974.6" width="3.5" height="10.5"/><circle cx="139.15" cy="971.2" r="2.1"/>
<rect x="74.4" y="974.6" width="3.5" height="10.5"/>
<rect x="87.6" y="969.3" width="3.5" height="15.8"/>
<path d="M119.9 969.9H123.9L128.05 980.8L132.2 969.9H136.2L129.9 985.1H126.2Z"/>
</g>
<g fill="none" stroke="#e1e1e1" stroke-width="3.4">
<path d="M62.05 985.1V979.9A3.5 3.5 0 0 1 66.1 976.5"/>
<g stroke-width="3.1"><circle cx="72.3" cy="979.85" r="3.85"/><circle cx="85.3" cy="979.85" r="3.85"/><circle cx="115.4" cy="979.85" r="3.85"/></g>
<path d="M100.65 985.1V974.6M100.65 979.7A3.2 3.2 0 0 1 107.05 979.7V985.1"/>
<path d="M119.25 974.6V984.2A3.75 3.75 0 0 1 112.2 986"/>
<path d="M151.3 982.8A3.95 3.95 0 1 1 151.85 980.7H145" stroke-width="2.9"/>
<path d="M155.2 973.6L158.6 985.3L161.9 975.4L165.2 985.3L168.6 973.6" stroke-width="3.1" stroke-linejoin="miter" stroke-miterlimit="10" clip-path="url(#cw)"/>
</g>
</svg></body></html>
